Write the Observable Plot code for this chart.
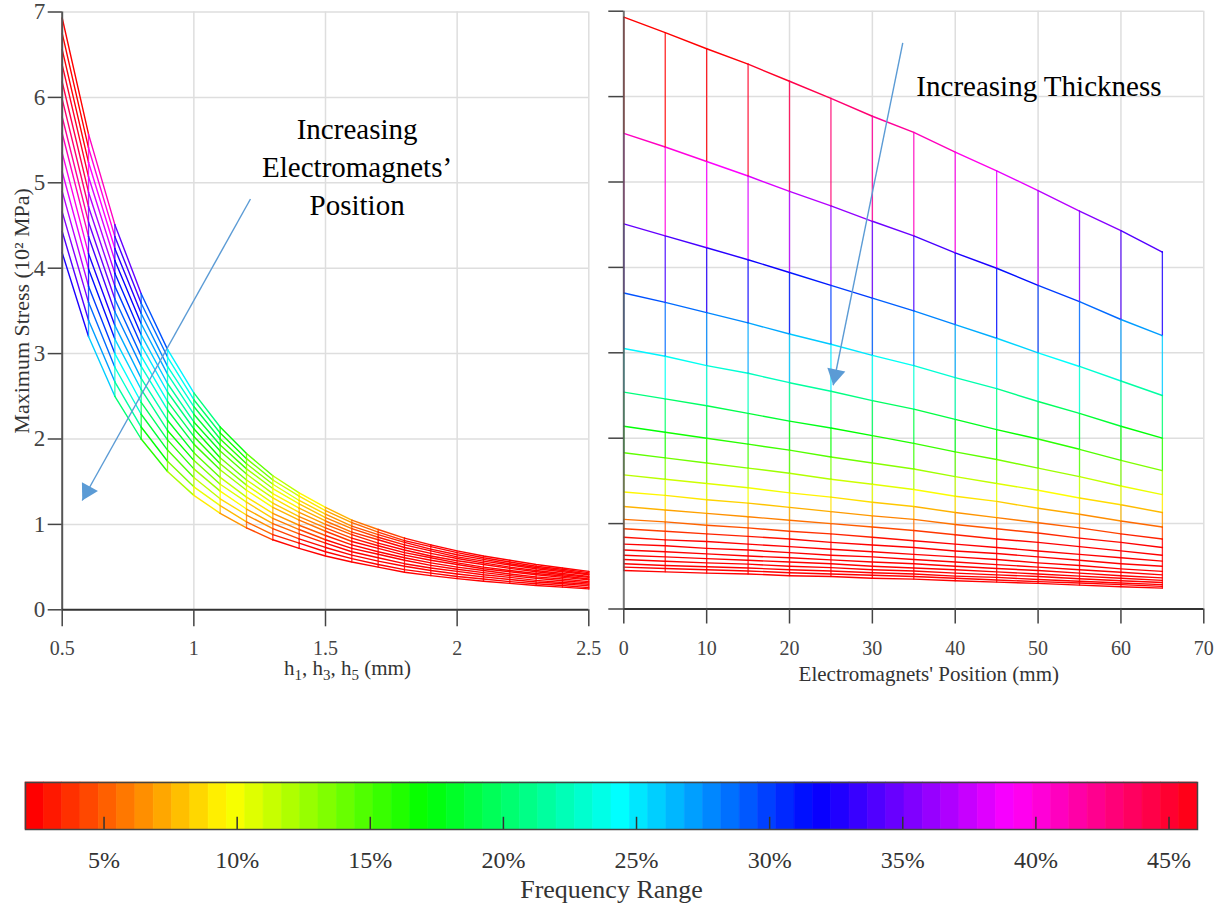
<!DOCTYPE html>
<html>
<head>
<meta charset="utf-8">
<script src="https://cdn.jsdelivr.net/npm/d3@7"></script>
<script src="https://cdn.jsdelivr.net/npm/@observablehq/plot@0.6"></script>
<style>
  body { margin: 0; background: #fff; }
  #wrap { position: relative; width: 1225px; height: 915px; overflow: hidden; background: #fff; }
</style>
</head>
<body>
<div id="wrap"></div>
<script>
// ---- data ----
const thickness = [0.5, 0.6, 0.7, 0.8, 0.9, 1.0, 1.1, 1.2, 1.3, 1.4, 1.5, 1.6, 1.7, 1.8, 1.9, 2.0, 2.1, 2.2, 2.3, 2.4, 2.5];
const positions = [0, 5, 10, 15, 20, 25, 30, 35, 40, 45, 50, 55, 60, 65];
// maximum stress (10^2 MPa): one row per thickness, one value per position
const stressRows = [
  [6.93, 6.75, 6.56, 6.38, 6.18, 5.98, 5.77, 5.58, 5.35, 5.13, 4.90, 4.66, 4.43, 4.18],
  [5.57, 5.41, 5.24, 5.07, 4.89, 4.72, 4.54, 4.37, 4.17, 3.99, 3.79, 3.60, 3.39, 3.20],
  [4.51, 4.37, 4.23, 4.09, 3.94, 3.79, 3.64, 3.49, 3.33, 3.17, 3.00, 2.84, 2.67, 2.50],
  [3.70, 3.59, 3.47, 3.35, 3.22, 3.10, 2.97, 2.85, 2.71, 2.58, 2.43, 2.29, 2.14, 2.00],
  [3.05, 2.96, 2.85, 2.76, 2.65, 2.55, 2.44, 2.34, 2.22, 2.10, 1.99, 1.87, 1.74, 1.62],
  [2.54, 2.46, 2.38, 2.29, 2.20, 2.12, 2.03, 1.94, 1.84, 1.75, 1.65, 1.55, 1.44, 1.34],
  [2.14, 2.07, 2.00, 1.93, 1.86, 1.78, 1.71, 1.64, 1.55, 1.47, 1.39, 1.30, 1.22, 1.13],
  [1.83, 1.77, 1.71, 1.65, 1.59, 1.52, 1.46, 1.40, 1.32, 1.26, 1.18, 1.11, 1.03, 0.96],
  [1.57, 1.52, 1.47, 1.42, 1.36, 1.31, 1.25, 1.20, 1.13, 1.07, 1.01, 0.95, 0.88, 0.82],
  [1.37, 1.33, 1.28, 1.24, 1.19, 1.14, 1.09, 1.05, 0.99, 0.94, 0.89, 0.83, 0.78, 0.72],
  [1.20, 1.16, 1.12, 1.08, 1.04, 1.00, 0.96, 0.92, 0.87, 0.82, 0.78, 0.73, 0.68, 0.63],
  [1.05, 1.02, 0.98, 0.95, 0.91, 0.88, 0.84, 0.80, 0.76, 0.72, 0.68, 0.64, 0.60, 0.56],
  [0.94, 0.91, 0.88, 0.85, 0.82, 0.78, 0.75, 0.72, 0.68, 0.65, 0.61, 0.57, 0.53, 0.50],
  [0.84, 0.81, 0.79, 0.76, 0.73, 0.70, 0.67, 0.64, 0.61, 0.58, 0.54, 0.51, 0.47, 0.44],
  [0.76, 0.74, 0.71, 0.69, 0.66, 0.63, 0.61, 0.58, 0.55, 0.52, 0.49, 0.46, 0.43, 0.40],
  [0.69, 0.67, 0.645, 0.62, 0.60, 0.575, 0.55, 0.53, 0.50, 0.475, 0.45, 0.42, 0.39, 0.365],
  [0.63, 0.61, 0.59, 0.57, 0.55, 0.53, 0.50, 0.48, 0.46, 0.435, 0.41, 0.385, 0.36, 0.335],
  [0.58, 0.56, 0.54, 0.525, 0.50, 0.485, 0.46, 0.445, 0.42, 0.40, 0.38, 0.355, 0.33, 0.31],
  [0.53, 0.51, 0.495, 0.48, 0.46, 0.445, 0.425, 0.41, 0.385, 0.37, 0.345, 0.325, 0.305, 0.285],
  [0.49, 0.475, 0.46, 0.445, 0.425, 0.41, 0.395, 0.38, 0.36, 0.34, 0.32, 0.305, 0.285, 0.265],
  [0.45, 0.435, 0.42, 0.41, 0.39, 0.38, 0.36, 0.35, 0.33, 0.315, 0.30, 0.28, 0.26, 0.245]
];
const stressTicks = [0, 1, 2, 3, 4, 5, 6, 7];
const thicknessTicks = [0.5, 1, 1.5, 2, 2.5];
const positionTicks = [0, 10, 20, 30, 40, 50, 60, 70];
const colorbarTicks = [5, 10, 15, 20, 25, 30, 35, 40, 45];
const colorbarRange = [2.05, 46.07];   // percent at the two ends of the colour bar
const colorbarCells = 64;

// annotations (data coordinates)
const leftNote = [{x: 1.62, y: 5.21, text: "Increasing\nElectromagnets\u2019\nPosition"}];
const leftArrow = [{x1: 1.215, y1: 4.81, x2: 0.576, y2: 1.28}];
const rightNote = [{x: 50.1, y: 6.12, text: "Increasing Thickness"}];
const rightArrow = [{x1: 33.67, y1: 6.63, x2: 25.27, y2: 2.62}];

// ---- build ----
const FONT = '"Liberation Serif","Times New Roman",serif';
const hsv = t => d3.hsl(360 * Math.max(0, Math.min(1, t)), 1, 0.5).formatHex();
const grid = [];
thickness.forEach((h, i) => positions.forEach((p, j) => grid.push({h, pos: p, s: stressRows[i][j]})));
const stressColor = {type: "sqrt", domain: [0.81, 6.6], clamp: true, interpolate: hsv};
const GRID = {stroke: "#dedede", strokeOpacity: 1, strokeWidth: 1.5};
const ARROW = "#5b9bd5";
const plain = d => String(d);
const wrap = document.getElementById("wrap");

function baseStyle(left, top) {
  return {position: "absolute", left: left + "px", top: top + "px", overflow: "visible",
          background: "transparent", fontFamily: FONT, fontSize: "20px", color: "#333"};
}

const leftPlot = Plot.plot({
  width: 606, height: 700,
  marginLeft: 61.7, marginRight: 17.7, marginTop: 11.5, marginBottom: 90.7,
  x: {domain: [0.5, 2.5]},
  y: {domain: [0, 7]},
  color: stressColor,
  style: baseStyle(0, 0),
  marks: [
    Plot.gridY(stressTicks.slice(1), GRID),
    Plot.gridX([1, 1.5, 2, 2.5], GRID),
    Plot.line(grid, {x: "h", y: "s", z: "pos", stroke: "s", strokeWidth: 1.4}),
    Plot.line(grid, {x: "h", y: "s", z: "h", stroke: "s", strokeWidth: 1.3, strokeOpacity: 0.85}),
    Plot.ruleX([0.5], {stroke: "#555", strokeWidth: 2}),
    Plot.ruleY([0], {stroke: "#333", strokeWidth: 2}),
    Plot.axisY(stressTicks, {tickSize: 14, tickPadding: 3, fontSize: 23, tickFormat: plain, color: "#444", strokeWidth: 1.5, label: null}),
    Plot.axisX(thicknessTicks, {tickSize: 17, tickPadding: 14, fontSize: 20, tickFormat: plain, color: "#444", strokeWidth: 1.5, label: null}),
    Plot.text(["Maximum Stress (10\u00B2 MPa)"], {frameAnchor: "left", dx: -40, rotate: -90, textAnchor: "middle", fontSize: 22, fill: "#333"}),
    Plot.text(["h1, h3, h5 (mm)"], {frameAnchor: "bottom", dx: 22, dy: 65, fontSize: 21, fill: "#333"}),
    Plot.link(leftArrow, {x1: "x1", y1: "y1", x2: "x2", y2: "y2", stroke: ARROW, strokeWidth: 1.4}),
    Plot.dot(leftArrow, {x: "x2", y: "y2", symbol: "triangle", r: 6.8, fill: ARROW, stroke: null, rotate: 209, dx: 5.15, dy: -9.26}),
    Plot.text(leftNote, {x: "x", y: "y", text: "text", fontSize: 29, lineHeight: 1.31, fill: "#000"})
  ]
});
// subscripts in the x label
for (const t of leftPlot.querySelectorAll("text")) {
  if (t.textContent === "h1, h3, h5 (mm)") {
    t.textContent = "";
    const parts = [["h", 0], ["1", 1], [", h", 0], ["3", 1], [", h", 0], ["5", 1], [" (mm)", 0]];
    let shifted = false;
    for (const [s, sub] of parts) {
      const ts = document.createElementNS("http://www.w3.org/2000/svg", "tspan");
      ts.textContent = s;
      if (sub) { ts.setAttribute("dy", "5"); ts.setAttribute("font-size", "15"); shifted = true; }
      else if (shifted) { ts.setAttribute("dy", "-5"); shifted = false; }
      t.appendChild(ts);
    }
  }
}
wrap.appendChild(leftPlot);

const rightPlot = Plot.plot({
  width: 619, height: 700,
  marginLeft: 17.3, marginRight: 21.7, marginTop: 10.7, marginBottom: 91.5,
  x: {domain: [0, 70]},
  y: {domain: [0, 7]},
  color: stressColor,
  style: baseStyle(606, 0),
  marks: [
    Plot.gridY(stressTicks.slice(1), GRID),
    Plot.gridX(positionTicks.slice(1), GRID),
    Plot.line(grid, {x: "pos", y: "s", z: "h", stroke: "s", strokeWidth: 1.4}),
    Plot.line(grid, {x: "pos", y: "s", z: "pos", stroke: "s", strokeWidth: 1.3, strokeOpacity: 0.85}),
    Plot.ruleX([0], {stroke: "#555", strokeWidth: 2, strokeOpacity: 0.8}),
    Plot.ruleY([0], {stroke: "#333", strokeWidth: 2}),
    Plot.axisY(stressTicks, {tickSize: 15, tickFormat: () => "", color: "#444", strokeWidth: 1.5, label: null}),
    Plot.axisX(positionTicks, {tickSize: 15, tickPadding: 17, fontSize: 20, color: "#444", strokeWidth: 1.5, label: null}),
    Plot.text(["Electromagnets' Position (mm)"], {frameAnchor: "bottom", dx: 15, dy: 72, fontSize: 21, fill: "#333"}),
    Plot.link(rightArrow, {x1: "x1", y1: "y1", x2: "x2", y2: "y2", stroke: ARROW, strokeWidth: 1.4}),
    Plot.dot(rightArrow, {x: "x2", y: "y2", symbol: "triangle", r: 6.8, fill: ARROW, stroke: null, rotate: 191.5, dx: 2.1, dy: -10.4}),
    Plot.text(rightNote, {x: "x", y: "y", text: "text", fontSize: 29, fill: "#000"})
  ]
});
wrap.appendChild(rightPlot);

// colour bar
const cellW = (colorbarRange[1] - colorbarRange[0]) / colorbarCells;
const cells = d3.range(colorbarCells).map(i => ({x1: colorbarRange[0] + i * cellW, x2: colorbarRange[0] + (i + 1) * cellW}));
const barPlot = Plot.plot({
  width: 1225, height: 155,
  marginLeft: 25, marginRight: 28, marginTop: 22, marginBottom: 86,
  x: {domain: colorbarRange},
  y: {domain: [0, 1], axis: null},
  color: {type: "linear", domain: colorbarRange, interpolate: hsv},
  style: baseStyle(0, 760),
  marks: [
    Plot.rect(cells, {x1: "x1", x2: "x2", y1: 0, y2: 1, fill: "x1", stroke: "x1", strokeWidth: 0.6}),
    Plot.ruleX(colorbarTicks, {y1: 0, y2: 0.26, stroke: "#333", strokeWidth: 1.5}),
    Plot.frame({stroke: "#444", strokeWidth: 1.5}),
    Plot.axisX(colorbarTicks, {tickSize: 0, tickPadding: 21, tickFormat: d => d + "%", fontSize: 24, color: "#333", label: null}),
    Plot.text(["Frequency Range"], {frameAnchor: "bottom", dy: 68, fontSize: 26, fill: "#333"})
  ]
});
wrap.appendChild(barPlot);
</script>
</body>
</html>
